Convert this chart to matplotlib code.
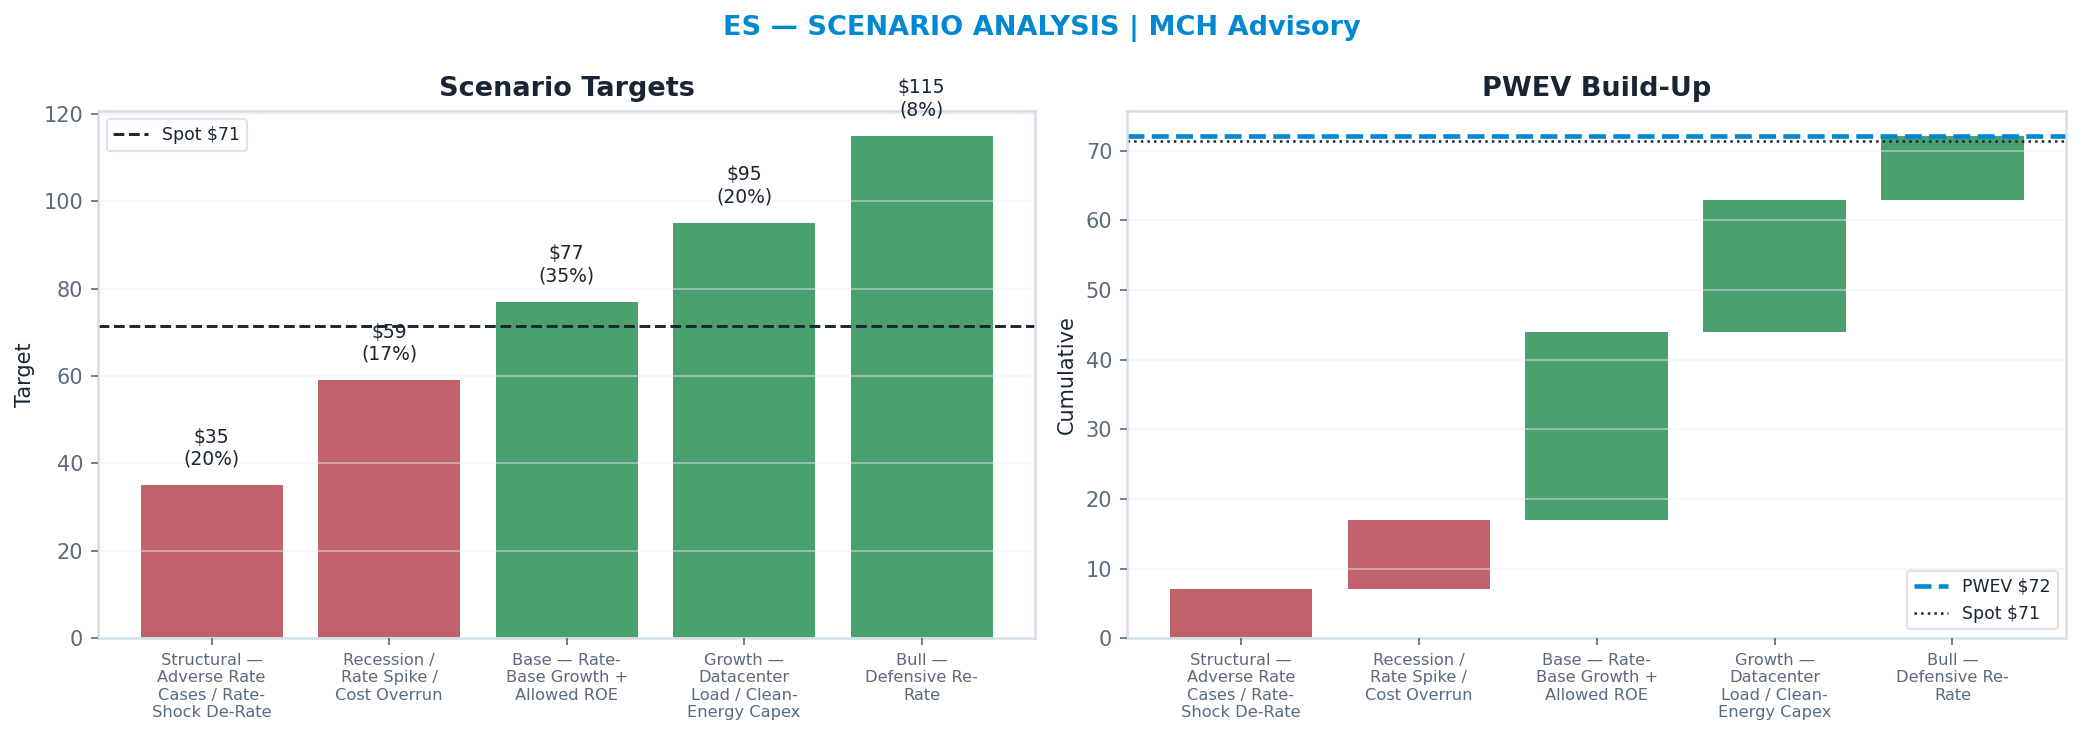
import matplotlib
matplotlib.use("Agg")
import matplotlib.pyplot as plt
import numpy as np

# Datos de escenarios
escenarios = [
    "Structural —\nAdverse Rate\nCases / Rate-\nShock De-Rate",
    "Recession /\nRate Spike /\nCost Overrun",
    "Base — Rate-\nBase Growth +\nAllowed ROE",
    "Growth —\nDatacenter\nLoad / Clean-\nEnergy Capex",
    "Bull —\nDefensive Re-\nRate",
]
objetivos = [35, 59, 77, 95, 115]
probabilidades = [0.20, 0.17, 0.35, 0.20, 0.08]
spot = 71.4

ROJO = "#c0616b"
VERDE = "#4aa06e"
AZUL = "#0288d1"
OSCURO = "#1a2533"
GRIS = "#5a6b7d"
BORDE = "#d5dde6"

colores = [ROJO, ROJO, VERDE, VERDE, VERDE]
aportes = [o * p for o, p in zip(objetivos, probabilidades)]
acumulado = np.cumsum(aportes)
bases = np.concatenate([[0], acumulado[:-1]])
pwev = acumulado[-1]

fig = plt.figure(figsize=(2083 / 150, 742 / 150), dpi=150)
ax1 = fig.add_axes([0.047, 0.14, 0.45, 0.711])
ax2 = fig.add_axes([0.541, 0.14, 0.451, 0.711])

x = np.arange(len(escenarios))


def estilo(ax):
    for s in ax.spines.values():
        s.set_color(BORDE)
        s.set_linewidth(1.2)
    ax.tick_params(axis="y", colors=GRIS, labelsize=10)
    ax.tick_params(axis="x", colors=GRIS, labelsize=7.8)
    ax.grid(axis="y", color="#e8edf2", alpha=0.45, linewidth=1)
    ax.set_axisbelow(False)
    ax.set_xticks(x)
    ax.set_xticklabels(escenarios, color=GRIS)


# Grafica 1: objetivos por escenario
ax1.bar(x, objetivos, color=colores, width=0.8)
for xi, o, p in zip(x, objetivos, probabilidades):
    ax1.annotate(f"${o}\n({p:.0%})", (xi, o), xytext=(0, 8), textcoords="offset points",
                 ha="center", va="bottom", fontsize=9, color=OSCURO)
ax1.axhline(spot, color=OSCURO, linestyle="--", linewidth=1.4, label=f"Spot ${spot:.0f}")
ax1.set_ylabel("Target", color=OSCURO, fontsize=10)
ax1.set_title("Scenario Targets", fontsize=13, fontweight="bold", color=OSCURO, pad=7)
ax1.legend(loc="upper left", fontsize=8.3, labelcolor=OSCURO, edgecolor=BORDE)
estilo(ax1)

# Grafica 2: cascada del PWEV
ax2.bar(x, aportes, bottom=bases, color=colores, width=0.8)
ax2.axhline(pwev, color=AZUL, linestyle="--", linewidth=2.2, label=f"PWEV ${pwev:.0f}")
ax2.axhline(spot, color=OSCURO, linestyle=":", linewidth=1.2, label=f"Spot ${spot:.0f}")
ax2.set_ylabel("Cumulative", color=OSCURO, fontsize=10)
ax2.set_title("PWEV Build-Up", fontsize=13, fontweight="bold", color=OSCURO, pad=7)
ax2.legend(loc="lower right", fontsize=8.3, labelcolor=OSCURO, edgecolor=BORDE)
estilo(ax2)

fig.suptitle("ES — SCENARIO ANALYSIS | MCH Advisory", fontsize=13, fontweight="bold",
             color=AZUL, y=0.98)

fig.savefig("out.png", dpi=150)
